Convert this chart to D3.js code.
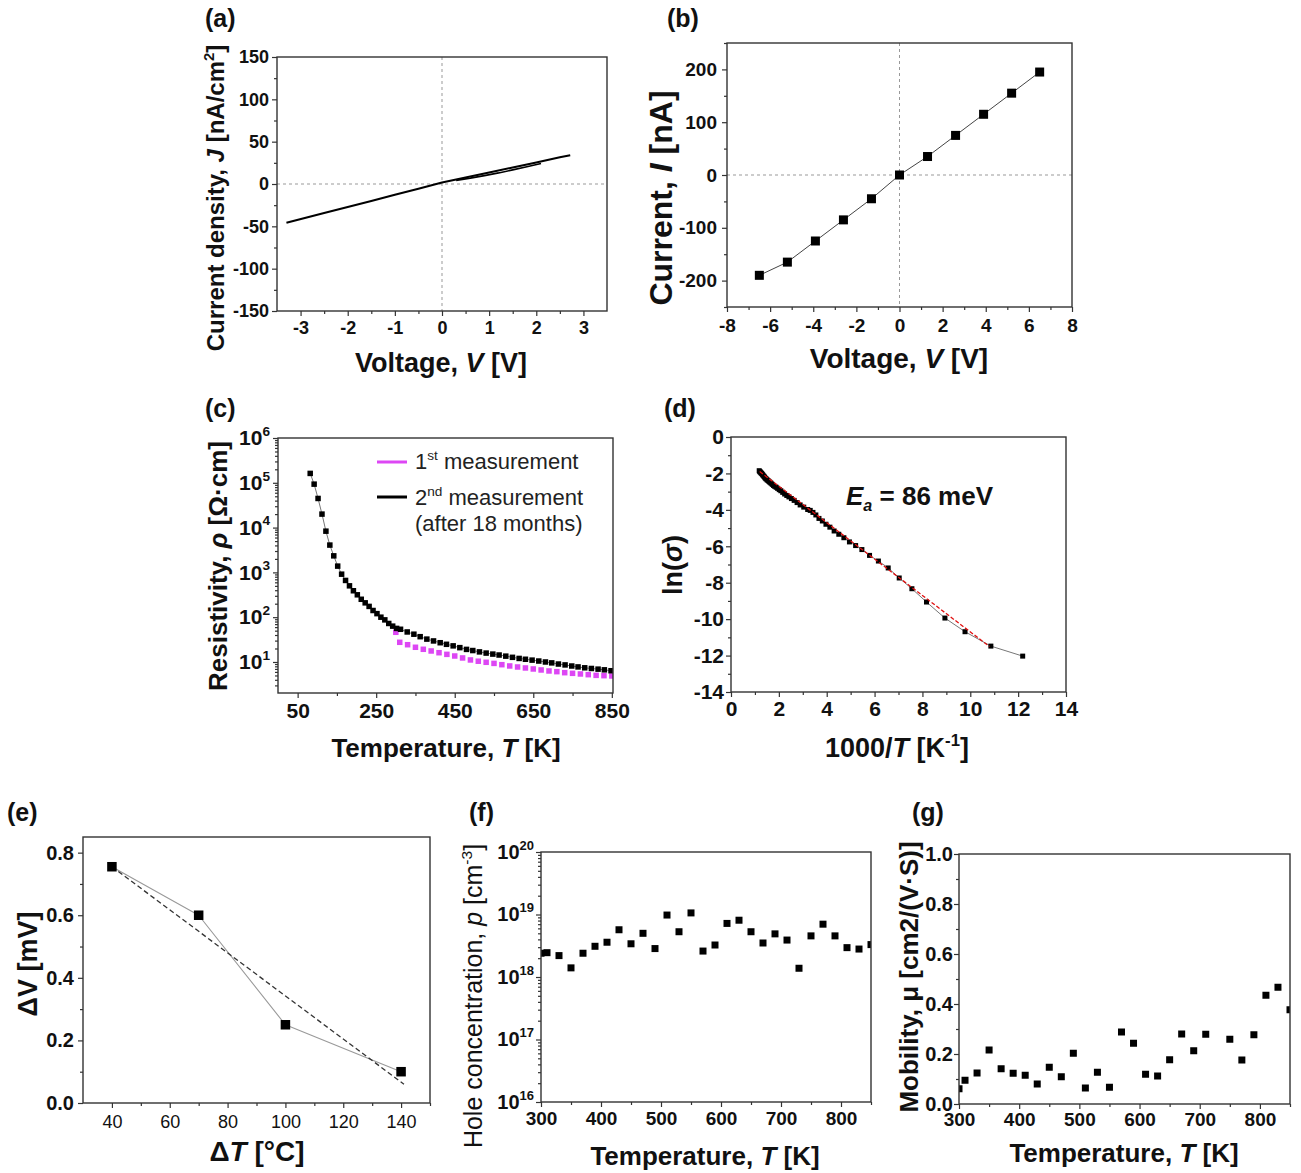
<!DOCTYPE html>
<html><head><meta charset="utf-8">
<script src="https://cdn.jsdelivr.net/npm/d3@7"></script>
<style>body{margin:0;background:#fff;}</style>
</head><body>
<script>
// ================= DATA =================
// (a) J–V sweep (forward branch and lower return branch of the small loop)
const aSweepV  = [-3.3, -2.5, -2, -1.5, -1, -0.5, 0, 0.5, 1, 1.5, 2, 2.5, 2.72];
const aSweepJ  = [-45.8, -34.3, -27.1, -20, -12.7, -5.5, 1.7, 7.6, 13.6, 19.5, 25.5, 31.5, 34];
const aReturnV = [2.1, 1.8, 1.5, 1.2, 0.9, 0.6, 0.3];
const aReturnJ = [24.2, 20.3, 16.7, 13.1, 9.9, 6.9, 4.3];
const aXTicks = [-3, -2, -1, 0, 1, 2, 3];
const aYTicks = [-150, -100, -50, 0, 50, 100, 150];

// (b) I–V
const bVoltage = [-6.5, -5.2, -3.9, -2.6, -1.3, 0, 1.3, 2.6, 3.9, 5.2, 6.5];
const bCurrent = [-190, -165, -125, -85, -45, 0, 35, 75, 115, 155, 195];
const bXTicks = [-8, -6, -4, -2, 0, 2, 4, 6, 8];
const bYTicks = [-200, -100, 0, 100, 200];

// (c) resistivity vs temperature
const cTemp2 = [82, 92, 102, 112, 122, 132, 142, 152, 162, 172, 182, 192, 202, 212, 222, 232, 242, 252, 262, 272, 282, 292, 302,
  312, 329, 346, 362, 379, 396, 413, 429, 446, 463, 480, 496, 513, 530, 547, 563, 580, 597, 614, 630, 647, 664, 681, 697, 714, 731, 748, 764, 781, 798, 815, 831, 848];
const cRho2 = [162000, 93300, 44700, 20000, 8320, 4070, 2340, 1380, 912, 661, 501, 389, 316, 251, 209, 174, 141, 120, 100, 87.1, 72.4, 63.1, 56.2,
  53.7, 46.8, 41.7, 36.7, 32.4, 29.5, 26.9, 24.8, 22.9, 20.9, 19.1, 18.0, 16.8, 15.8, 15.0, 14.3, 13.5, 12.7, 12.0, 11.5, 11.0, 10.5, 10.0, 9.55, 9.0, 8.6, 8.13, 7.76, 7.41, 7.16, 6.92, 6.68, 6.38];
const cTemp1 = [300, 310, 330, 350, 370, 390, 410, 430, 450, 470, 490, 510, 530, 550, 570, 590, 610, 630, 650, 670, 690, 710, 730, 750, 770, 790, 810, 830, 850];
const cRho1 = [46, 27.5, 24.3, 21.3, 19.2, 17.6, 16.1, 14.8, 13.6, 12.3, 11.1, 10.4, 9.84, 9.3, 8.7, 8.15, 7.73, 7.35, 6.98, 6.63, 6.3, 6.08, 5.77, 5.58, 5.4, 5.21, 5.03, 4.95, 4.87];
const cXTicks = [50, 250, 450, 650, 850];
const cYTicks = [1e1, 1e2, 1e3, 1e4, 1e5, 1e6];
const cLegend = ["1st measurement", "2nd measurement", "(after 18 months)"];

// (d) Arrhenius plot
const dInvT = [12.19, 10.86, 9.78, 8.94, 8.17, 7.56, 7.03, 6.57, 6.16, 5.79, 5.47, 5.208, 4.950, 4.717, 4.505, 4.310, 4.132, 3.968, 3.817, 3.676, 3.546, 3.425, 3.311,
  3.205, 3.040, 2.890, 2.762, 2.639, 2.525, 2.421, 2.331, 2.242, 2.160, 2.083, 2.016, 1.949, 1.887, 1.828, 1.776, 1.724, 1.675, 1.629, 1.587, 1.546, 1.506, 1.468, 1.435, 1.401, 1.368, 1.337, 1.309, 1.280, 1.253, 1.227, 1.203, 1.179];
const dLnSigma = [-12.03, -11.48, -10.69, -9.94, -9.06, -8.33, -7.74, -7.19, -6.81, -6.50, -6.18, -5.96, -5.76, -5.53, -5.34, -5.16, -4.95, -4.79, -4.61, -4.47, -4.28, -4.14, -4.03,
  -3.98, -3.85, -3.73, -3.60, -3.48, -3.38, -3.29, -3.21, -3.13, -3.04, -2.95, -2.89, -2.82, -2.76, -2.71, -2.66, -2.60, -2.54, -2.49, -2.44, -2.39, -2.35, -2.30, -2.26, -2.20, -2.15, -2.10, -2.05, -2.00, -1.97, -1.93, -1.90, -1.85];
const dFitX = [1.2, 10.8];
const dFitY = [-1.9, -11.5];
const dXTicks = [0, 2, 4, 6, 8, 10, 12, 14];
const dYTicks = [0, -2, -4, -6, -8, -10, -12, -14];

// (e) Seebeck voltage
const eDeltaT = [40, 70, 100, 140];
const eDeltaV = [0.755, 0.6, 0.25, 0.1];
const eFitX = [40, 141];
const eFitY = [0.755, 0.06];
const eXTicks = [40, 60, 80, 100, 120, 140];
const eYTicks = [0, 0.2, 0.4, 0.6, 0.8];

// (f) hole concentration
const fTemp = [300, 310, 330, 350, 370, 390, 410, 430, 450, 470, 490, 510, 530, 550, 570, 590, 610, 630, 650, 670, 690, 710, 730, 750, 770, 790, 810, 830, 850];
const fHole = [2.4e18, 2.45e18, 2.2e18, 1.4e18, 2.4e18, 3.1e18, 3.6e18, 5.7e18, 3.4e18, 5.0e18, 2.85e18, 9.8e18, 5.3e18, 1.06e19, 2.6e18, 3.25e18, 7.2e18, 8.1e18, 5.3e18, 3.5e18, 4.9e18, 3.9e18, 1.38e18, 4.55e18, 7.0e18, 4.55e18, 2.95e18, 2.8e18, 3.3e18];
const fXTicks = [300, 400, 500, 600, 700, 800];
const fYTicks = [1e16, 1e17, 1e18, 1e19, 1e20];

// (g) mobility
const gTemp = [300, 310, 330, 350, 370, 390, 410, 430, 450, 470, 490, 510, 530, 550, 570, 590, 610, 630, 650, 670, 690, 710, 750, 770, 790, 810, 830, 850];
const gMobility = [0.061, 0.095, 0.124, 0.216, 0.141, 0.123, 0.115, 0.08, 0.147, 0.109, 0.203, 0.064, 0.127, 0.067, 0.288, 0.243, 0.119, 0.112, 0.177, 0.28, 0.213, 0.279, 0.259, 0.176, 0.277, 0.435, 0.467, 0.377];
const gXTicks = [300, 400, 500, 600, 700, 800];
const gYTicks = [0, 0.2, 0.4, 0.6, 0.8, 1.0];

// ================= DRAWING =================
const FONT = '"Liberation Sans", Arial, Helvetica, sans-serif';
const INK = "#111", FRAME = "#333", PINK = "#dd47f4";
const svg = d3.select("body").append("svg").attr("width", 1301).attr("height", 1173)
  .attr("font-family", FONT);
svg.append("rect").attr("width", 1301).attr("height", 1173).attr("fill", "#fff");
const defs = svg.append("defs");

function rich(sel, parts, fs) {
  let shift = 0;
  parts.forEach(p => {
    const ts = sel.append("tspan").text(p.t);
    let target = 0;
    if (p.sup) target = -fs * 0.42; else if (p.sub) target = fs * 0.24;
    if (target - shift !== 0) ts.attr("dy", target - shift);
    shift = target;
    if (p.sup || p.sub) ts.attr("font-size", fs * 0.62);
    if (p.i) ts.attr("font-style", "italic");
  });
}
function label(x, y, parts, fs, fw, anchor) {
  const t = svg.append("text").attr("x", x).attr("y", y).attr("text-anchor", anchor || "start")
    .attr("font-size", fs).attr("font-weight", fw || 700).attr("fill", INK);
  rich(t, parts, fs);
  return t;
}
function xTitle(x, y, parts, fs, fw) { return label(x, y, parts, fs, fw, "middle"); }
function yTitle(x, y, parts, fs, fw) {
  const t = svg.append("text").attr("transform", `translate(${x},${y}) rotate(-90)`)
    .attr("text-anchor", "middle").attr("font-size", fs).attr("font-weight", fw || 700).attr("fill", INK);
  rich(t, parts, fs);
}
function styleAxis(a, fs, fw) {
  a.attr("font-family", FONT).attr("font-size", fs || 10).attr("font-weight", fw || 700);
  a.select(".domain").remove();
  a.selectAll(".tick line").attr("stroke", FRAME).attr("stroke-width", 1.2);
  a.selectAll(".tick text").attr("fill", INK);
}
const num = d => String(d);

function makePanel(c) {
  const x = d3.scaleLinear().domain(c.xDom).range([c.x0, c.x1]);
  const y = (c.yLog ? d3.scaleLog() : d3.scaleLinear()).domain(c.yDom).range([c.y1, c.y0]);
  const id = "clip-" + c.id;
  defs.append("clipPath").attr("id", id).append("rect")
    .attr("x", c.x0).attr("y", c.y0).attr("width", c.x1 - c.x0).attr("height", c.y1 - c.y0);
  const root = svg.append("g");
  const axes = root.append("g");
  const plot = root.append("g").attr("clip-path", `url(#${id})`);
  const xa = axes.append("g").attr("transform", `translate(0,${c.y1})`)
    .call(d3.axisBottom(x).tickValues(c.xMajor).tickFormat(c.xFmt || num).tickSize(5).tickSizeOuter(0).tickPadding(c.xPad ?? 4));
  styleAxis(xa, c.xFs, c.xFw ?? 700);
  if (c.xMinor) styleAxis(axes.append("g").attr("transform", `translate(0,${c.y1})`)
    .call(d3.axisBottom(x).tickValues(c.xMinor).tickFormat("").tickSize(3).tickSizeOuter(0)));
  const ya = axes.append("g").attr("transform", `translate(${c.x0},0)`)
    .call(d3.axisLeft(y).tickValues(c.yMajor).tickFormat(c.yLog ? (() => "") : (c.yFmt || num)).tickSize(5).tickSizeOuter(0).tickPadding(c.yPad ?? 3));
  styleAxis(ya, c.yFs, 700);
  if (c.yLog) {
    ya.selectAll(".tick text").each(function (d) {
      const t = d3.select(this);
      t.append("tspan").text("10");
      t.append("tspan").attr("font-size", c.yFs * 0.65).attr("dy", -c.yFs * 0.45).text(Math.round(Math.log10(d)));
    });
  }
  let yMinor = c.yMinor;
  if (c.yLog) {
    const maj = new Set(c.yMajor.map(v => Math.round(Math.log10(v) * 1000)));
    yMinor = y.ticks().filter(v => !maj.has(Math.round(Math.log10(v) * 1000)));
  }
  if (yMinor) styleAxis(axes.append("g").attr("transform", `translate(${c.x0},0)`)
    .call(d3.axisLeft(y).tickValues(yMinor).tickFormat("").tickSize(3).tickSizeOuter(0)));
  return { x, y, plot, root, c };
}
function frame(P) {
  const c = P.c;
  P.root.append("rect").attr("x", c.x0).attr("y", c.y0).attr("width", c.x1 - c.x0).attr("height", c.y1 - c.y0)
    .attr("fill", "none").attr("stroke", FRAME).attr("stroke-width", 1.4);
}
function zeroLines(P) {
  P.plot.append("line").attr("x1", P.x(0)).attr("x2", P.x(0)).attr("y1", P.c.y0).attr("y2", P.c.y1)
    .attr("stroke", "#999").attr("stroke-width", 1).attr("stroke-dasharray", "3,3");
  P.plot.append("line").attr("x1", P.c.x0).attr("x2", P.c.x1).attr("y1", P.y(0)).attr("y2", P.y(0))
    .attr("stroke", "#999").attr("stroke-width", 1).attr("stroke-dasharray", "3,3");
}
function path(P, xs, ys, stroke, w, dash) {
  const line = d3.line().x(d => P.x(d[0])).y(d => P.y(d[1]));
  const p = P.plot.append("path").attr("d", line(xs.map((v, i) => [v, ys[i]])))
    .attr("fill", "none").attr("stroke", stroke).attr("stroke-width", w).attr("stroke-linejoin", "round");
  if (dash) p.attr("stroke-dasharray", dash);
}
function squares(P, xs, ys, s, fill) {
  P.plot.append("g").selectAll("rect").data(xs.map((v, i) => [v, ys[i]])).join("rect")
    .attr("x", d => P.x(d[0]) - s / 2).attr("y", d => P.y(d[1]) - s / 2)
    .attr("width", s).attr("height", s).attr("fill", fill);
}
const stepRange = (a, b, s) => d3.range(a, b + s / 2, s);

// ---------- (a) ----------
const A = makePanel({ id: "a", x0: 277, x1: 607, y0: 57, y1: 311, xDom: [-3.5, 3.5], yDom: [-150, 150],
  xMajor: aXTicks, xMinor: stepRange(-2.5, 2.5, 1), yMajor: aYTicks, yMinor: stepRange(-125, 125, 50),
  xFs: 18, yFs: 18, xPad: 5, yPad: 3 });
zeroLines(A);
path(A, aSweepV, aSweepJ, "#000", 2);
path(A, aReturnV, aReturnJ, "#000", 1.6);
frame(A);
yTitle(224, 198, [{ t: "Current density, " }, { t: "J", i: true }, { t: " [nA/cm" }, { t: "2", sup: true }, { t: "]" }], 24);
xTitle(441, 372, [{ t: "Voltage, " }, { t: "V", i: true }, { t: " [V]" }], 27);
label(205, 27, [{ t: "(a)" }], 25);

// ---------- (b) ----------
const B = makePanel({ id: "b", x0: 727, x1: 1072, y0: 43, y1: 307, xDom: [-8, 8], yDom: [-250, 250],
  xMajor: bXTicks, xMinor: stepRange(-7, 7, 2), yMajor: bYTicks, yMinor: stepRange(-250, 250, 100),
  xFs: 19, yFs: 19, xPad: 7, yPad: 5 });
zeroLines(B);
path(B, bVoltage, bCurrent, "#444", 1);
squares(B, bVoltage, bCurrent, 9, "#000");
frame(B);
yTitle(672, 198, [{ t: "Current, " }, { t: "I", i: true }, { t: " [nA]" }], 32);
xTitle(899, 368, [{ t: "Voltage, " }, { t: "V", i: true }, { t: " [V]" }], 28);
label(667, 27, [{ t: "(b)" }], 25);

// ---------- (c) ----------
const C = makePanel({ id: "c", x0: 278, x1: 613, y0: 438, y1: 693, xDom: [0, 853], yLog: true, yDom: [2.03, 1e6],
  xMajor: cXTicks, xMinor: [150, 350, 550, 750], yMajor: cYTicks, xFs: 21, yFs: 21, xPad: 5, yPad: 3 });
squares(C, cTemp1, cRho1, 5.5, PINK);
path(C, cTemp2, cRho2, "#666", 0.9);
squares(C, cTemp2, cRho2, 5.5, "#000");
frame(C);
// legend
C.root.append("line").attr("x1", 377).attr("x2", 407).attr("y1", 462).attr("y2", 462).attr("stroke", PINK).attr("stroke-width", 3);
C.root.append("line").attr("x1", 377).attr("x2", 407).attr("y1", 497).attr("y2", 497).attr("stroke", "#000").attr("stroke-width", 3);
label(415, 469, [{ t: "1" }, { t: "st", sup: true }, { t: " measurement" }], 22, 400).attr("fill", "#222");
label(415, 505, [{ t: "2" }, { t: "nd", sup: true }, { t: " measurement" }], 22, 400).attr("fill", "#222");
label(415, 531, [{ t: cLegend[2] }], 22, 400).attr("fill", "#222");
yTitle(227, 566, [{ t: "Resistivity, " }, { t: "ρ", i: true }, { t: " [Ω·cm]" }], 26);
xTitle(446, 757, [{ t: "Temperature, " }, { t: "T", i: true }, { t: " [K]" }], 26);
label(205, 417, [{ t: "(c)" }], 25);

// ---------- (d) ----------
const D = makePanel({ id: "d", x0: 731, x1: 1066, y0: 437, y1: 692, xDom: [0, 14], yDom: [-14, 0],
  xMajor: dXTicks, xMinor: stepRange(1, 13, 2), yMajor: dYTicks, yMinor: stepRange(-13, -1, 2),
  xFs: 21, yFs: 21, xPad: 4, yPad: 2 });
path(D, dInvT, dLnSigma, "#777", 1);
squares(D, dInvT, dLnSigma, 5, "#000");
path(D, dFitX, dFitY, "#e01010", 1.3, "4,2");
frame(D);
label(846, 505, [{ t: "E", i: true }, { t: "a", i: true, sub: true }, { t: " = 86 meV" }], 26);
yTitle(682, 565, [{ t: "ln(" }, { t: "σ", i: true }, { t: ")" }], 27);
xTitle(897, 757, [{ t: "1000/" }, { t: "T", i: true }, { t: " [K" }, { t: "-1", sup: true }, { t: "]" }], 27);
label(664, 417, [{ t: "(d)" }], 25);

// ---------- (e) ----------
const E = makePanel({ id: "e", x0: 83, x1: 430, y0: 837, y1: 1103, xDom: [30, 150], yDom: [0, 0.85],
  xMajor: eXTicks, xMinor: stepRange(50, 150, 20), yMajor: eYTicks, yMinor: stepRange(0.1, 0.7, 0.2),
  xFs: 18, xFw: 400, yFs: 20, xPad: 7, yPad: 4, yFmt: d => d.toFixed(1) });
path(E, eDeltaT, eDeltaV, "#999", 1.1);
path(E, eFitX, eFitY, "#333", 1.3, "5,3");
squares(E, eDeltaT, eDeltaV, 9.5, "#000");
frame(E);
yTitle(37, 964, [{ t: "ΔV [mV]" }], 27);
xTitle(257, 1161, [{ t: "Δ" }, { t: "T", i: true }, { t: " [°C]" }], 28);
label(7, 821, [{ t: "(e)" }], 25);

// ---------- (f) ----------
const F = makePanel({ id: "f", x0: 541, x1: 871, y0: 852, y1: 1102, xDom: [300, 850], yLog: true, yDom: [1e16, 1e20],
  xMajor: fXTicks, xMinor: stepRange(350, 850, 100), yMajor: fYTicks, xFs: 19, yFs: 20, xPad: 5, yPad: 2 });
squares(F, fTemp, fHole, 7, "#000");
frame(F);
yTitle(482, 996, [{ t: "Hole concentration, " }, { t: "p", i: true }, { t: " [cm" }, { t: "-3", sup: true }, { t: "]" }], 25, 400);
xTitle(705, 1165, [{ t: "Temperature, " }, { t: "T", i: true }, { t: " [K]" }], 26);
label(469, 821, [{ t: "(f)" }], 25);

// ---------- (g) ----------
const G = makePanel({ id: "g", x0: 959, x1: 1290, y0: 854, y1: 1104, xDom: [300, 850], yDom: [0, 1],
  xMajor: gXTicks, xMinor: stepRange(350, 850, 100), yMajor: gYTicks, yMinor: stepRange(0.1, 0.9, 0.2),
  xFs: 19, yFs: 20, xPad: 4, yPad: 1, yFmt: d => d.toFixed(1) });
squares(G, gTemp, gMobility, 7, "#000");
frame(G);
yTitle(918, 977, [{ t: "Mobility, μ [cm2/(V·S)]" }], 26);
xTitle(1124, 1162, [{ t: "Temperature, " }, { t: "T", i: true }, { t: " [K]" }], 26);
label(912, 821, [{ t: "(g)" }], 25);
</script>
</body></html>
